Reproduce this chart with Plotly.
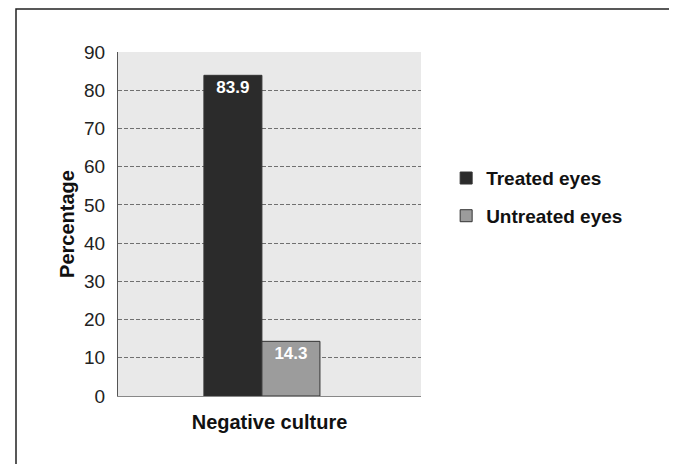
import plotly.graph_objects as go

categories = ["Negative culture"]
series_names = ["Treated eyes", "Untreated eyes"]
treated = [83.9]
untreated = [14.3]
series_colors = ["#2b2b2b", "#9c9c9c"]
y_ticks = [0, 10, 20, 30, 40, 50, 60, 70, 80, 90]

fig = go.Figure()
for i, (name, vals, col) in enumerate(zip(series_names, [treated, untreated], series_colors)):
    fig.add_trace(go.Bar(
        x=[0], y=vals, name=f"<b>{name}</b>", legendgroup=f"g{i}",
        marker=dict(color=col, line=dict(color="#333333", width=1)),
        text=[f"{v:.1f}" for v in vals], textposition="inside",
        insidetextanchor="end",
        textfont=dict(color="white", size=17, family="Liberation Sans"),
        texttemplate="<b>%{text}</b>",
    ))

fig.update_layout(
    width=677, height=464,
    barmode="group", bargap=0.617, bargroupgap=0,
    paper_bgcolor="white", plot_bgcolor="#e9e9e9",
    margin=dict(l=110, r=264, t=44, b=76, autoexpand=False),
    font=dict(family="Liberation Sans", color="#111111"),
    showlegend=True,
    legend=dict(x=1.083, y=0.578, xanchor="left", yanchor="middle",
                font=dict(size=19, family="Liberation Sans", color="#111"),
                traceorder="grouped", tracegroupgap=10,
                bgcolor="rgba(0,0,0,0)"),
    uniformtext=dict(minsize=10, mode="show"),
)
fig.update_xaxes(range=[-0.475, 0.525], showticklabels=False, showgrid=False,
                 zeroline=False, showline=True, linecolor="#888888", linewidth=1,
                 automargin=False,
                 title=dict(text="<b>Negative culture</b>", font=dict(size=20), standoff=18))
fig.update_yaxes(range=[0, 90], tickvals=y_ticks, ticktext=[str(t) for t in y_ticks],
                 tickfont=dict(size=19, color="#222"), showgrid=True,
                 gridcolor="#707070", griddash="4px,2px", gridwidth=1,
                 zeroline=False, showline=True, linecolor="#555555", linewidth=1,
                 ticks="", ticklabelstandoff=8, automargin=False,
                 title=dict(text="<b>Percentage</b>", font=dict(size=20), standoff=4))

fig.add_shape(type="rect", xref="paper", yref="paper",
              x0=-102/303, x1=557/303, y0=-(76 + 10) / 344, y1=1 + 43/344,
              line=dict(color="#222", width=1.5), fillcolor="rgba(0,0,0,0)", layer="below")

fig.write_html("out.html")
